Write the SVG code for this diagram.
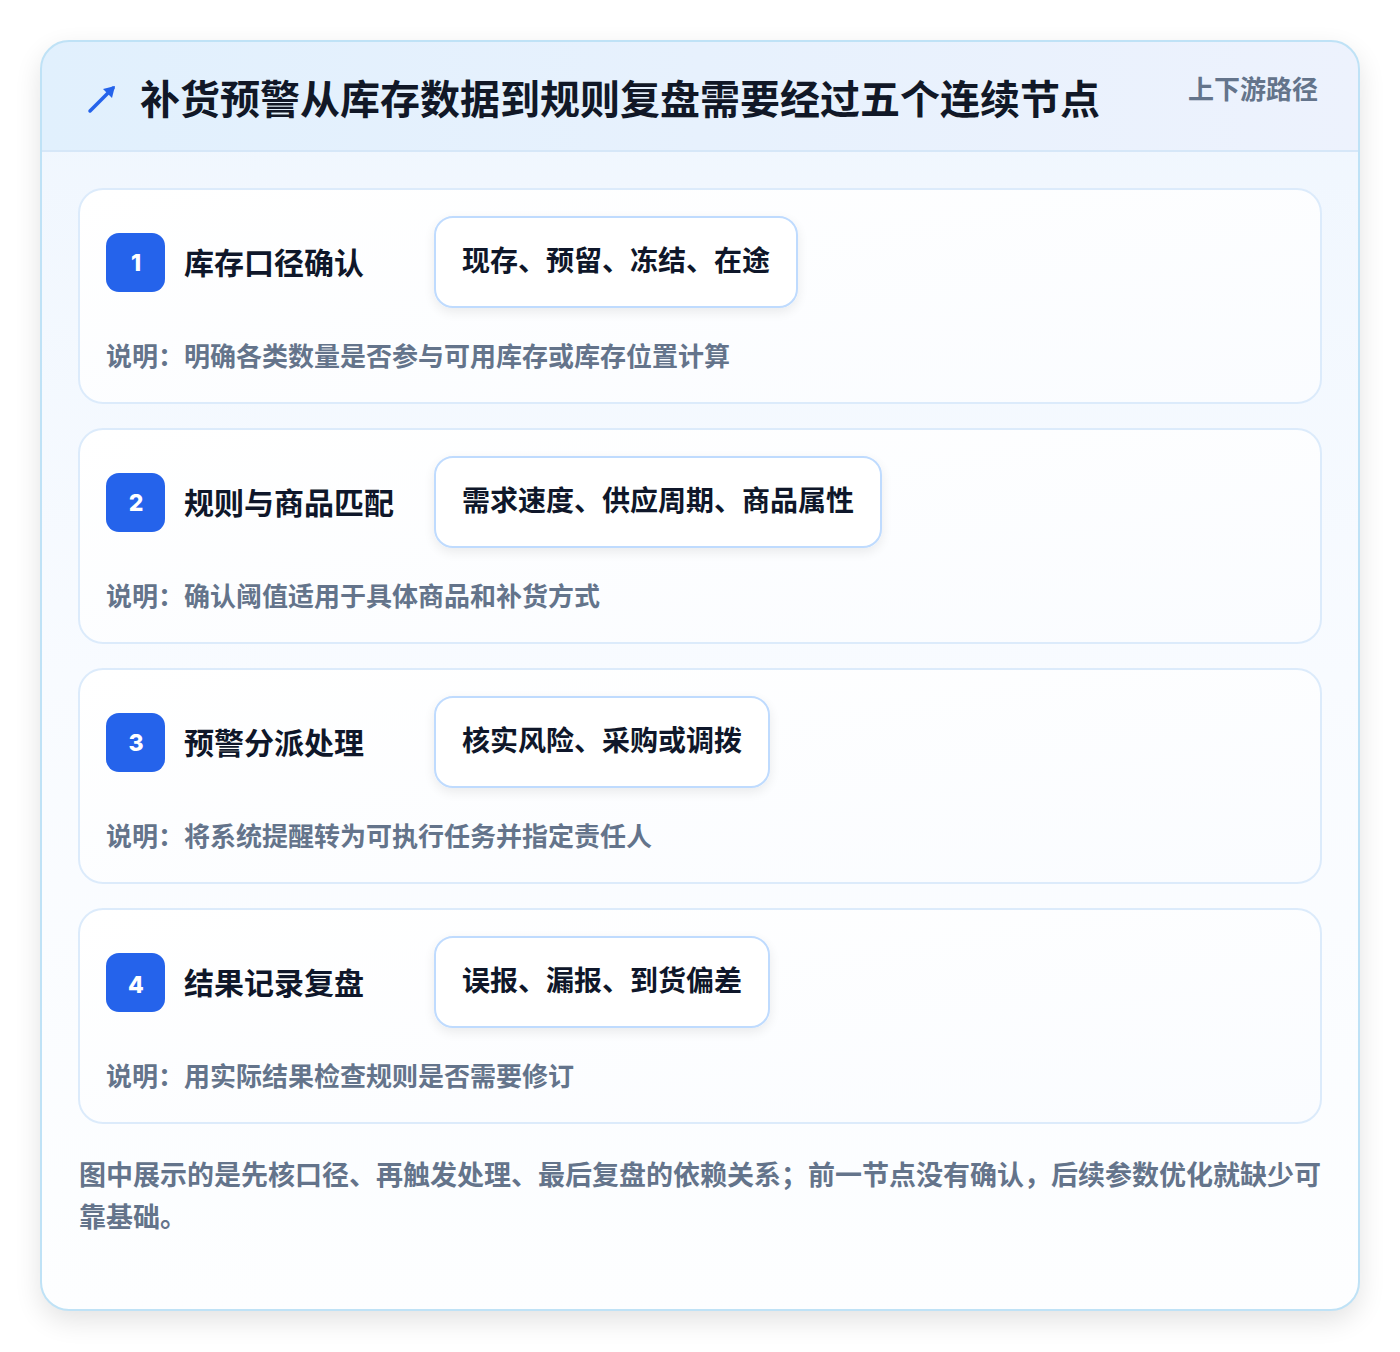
<svg xmlns="http://www.w3.org/2000/svg" width="1400" height="1352" viewBox="0 0 1400 1352">
<defs>
<linearGradient id="hdr" x1="0" y1="0" x2="1" y2="0"><stop offset="0" stop-color="#e1f0fd"/><stop offset="1" stop-color="#edf2fd"/></linearGradient>
<linearGradient id="body" x1="0" y1="0" x2="0" y2="1"><stop offset="0" stop-color="#eff6fe"/><stop offset="0.5" stop-color="#f8fbff"/><stop offset="1" stop-color="#fdfeff"/></linearGradient>
<linearGradient id="card" x1="0" y1="0" x2="1" y2="1"><stop offset="0" stop-color="#ffffff"/><stop offset="1" stop-color="#fafcff"/></linearGradient>
<filter id="sh" x="-10%" y="-10%" width="120%" height="120%"><feGaussianBlur in="SourceAlpha" stdDeviation="14"/><feOffset dy="10"/><feComponentTransfer><feFuncA type="linear" slope="0.12"/></feComponentTransfer><feMerge><feMergeNode/><feMergeNode in="SourceGraphic"/></feMerge></filter>
<filter id="tsh" x="-20%" y="-30%" width="140%" height="160%"><feGaussianBlur in="SourceAlpha" stdDeviation="6"/><feOffset dy="4"/><feComponentTransfer><feFuncA type="linear" slope="0.08"/></feComponentTransfer><feMerge><feMergeNode/><feMergeNode in="SourceGraphic"/></feMerge></filter>
<clipPath id="oc"><rect x="41" y="41" width="1318" height="1269" rx="28"/></clipPath>
</defs>
<style>
text{font-family:"Noto Sans CJK SC","Noto Sans",sans-serif;font-weight:700}
.card{fill:url(#card);stroke:#dcebfb;stroke-width:2}
.badge{fill:#2563eb}
.num{fill:#ffffff;font-size:23px;font-weight:800;text-anchor:middle;font-family:"Inter","Noto Sans",sans-serif}
.ttl{fill:#0f172a;font-size:30px}
.tag{fill:#ffffff;stroke:#bfdbfe;stroke-width:2}
.tagt{fill:#0f172a;font-size:28px}
.desc{fill:#64748b;font-size:26px}
</style>
<rect x="0" y="0" width="1400" height="1352" fill="#ffffff"/>
<g id="frame">
<rect x="41" y="41" width="1318" height="1269" rx="28" fill="url(#body)" filter="url(#sh)"/>
<g clip-path="url(#oc)">
<rect x="41" y="41" width="1318" height="110" fill="url(#hdr)"/>
<line x1="41" y1="151" x2="1359" y2="151" stroke="#d6e7f8" stroke-width="2"/>
</g>
<rect x="41" y="41" width="1318" height="1269" rx="28" fill="none" stroke="#bfe2f6" stroke-width="2"/>
</g>
<g id="header">
<g stroke="#2563eb" stroke-width="3.5" stroke-linecap="round" fill="none"><line x1="90" y1="111" x2="113" y2="88"/></g>
<polygon points="115,86 103,89 112,98" fill="#2563eb"/>
<text x="140" y="114" font-size="40" fill="#111827">补货预警从库存数据到规则复盘需要经过五个连续节点</text>
<text x="1318" y="99" font-size="26" fill="#64748b" text-anchor="end">上下游路径</text>
</g>
<g id="node1">
<rect class="card" x="79" y="189" width="1242" height="214" rx="24"/>
<rect class="badge" x="106" y="233" width="59" height="59" rx="13"/>
<text class="num" x="136" y="271">1</text>
<text class="ttl" x="184" y="274">库存口径确认</text>
<rect class="tag" x="435" y="217" width="362" height="90" rx="18" filter="url(#tsh)"/>
<text class="tagt" x="462" y="271">现存、预留、冻结、在途</text>
<text class="desc" x="106" y="366">说明：明确各类数量是否参与可用库存或库存位置计算</text>
</g>
<g id="node2">
<rect class="card" x="79" y="429" width="1242" height="214" rx="24"/>
<rect class="badge" x="106" y="473" width="59" height="59" rx="13"/>
<text class="num" x="136" y="511">2</text>
<text class="ttl" x="184" y="514">规则与商品匹配</text>
<rect class="tag" x="435" y="457" width="446" height="90" rx="18" filter="url(#tsh)"/>
<text class="tagt" x="462" y="511">需求速度、供应周期、商品属性</text>
<text class="desc" x="106" y="606">说明：确认阈值适用于具体商品和补货方式</text>
</g>
<g id="node3">
<rect class="card" x="79" y="669" width="1242" height="214" rx="24"/>
<rect class="badge" x="106" y="713" width="59" height="59" rx="13"/>
<text class="num" x="136" y="751">3</text>
<text class="ttl" x="184" y="754">预警分派处理</text>
<rect class="tag" x="435" y="697" width="334" height="90" rx="18" filter="url(#tsh)"/>
<text class="tagt" x="462" y="751">核实风险、采购或调拨</text>
<text class="desc" x="106" y="846">说明：将系统提醒转为可执行任务并指定责任人</text>
</g>
<g id="node4">
<rect class="card" x="79" y="909" width="1242" height="214" rx="24"/>
<rect class="badge" x="106" y="953" width="59" height="59" rx="13"/>
<text class="num" x="136" y="993">4</text>
<text class="ttl" x="184" y="994">结果记录复盘</text>
<rect class="tag" x="435" y="937" width="334" height="90" rx="18" filter="url(#tsh)"/>
<text class="tagt" x="462" y="991">误报、漏报、到货偏差</text>
<text class="desc" x="106" y="1086">说明：用实际结果检查规则是否需要修订</text>
</g>
<g id="connectors"></g>
<g id="footer">
<text x="79" y="1185" font-size="27" fill="#64748b">图中展示的是先核口径、再触发处理、最后复盘的依赖关系；前一节点没有确认，后续参数优化就缺少可</text>
<text x="79" y="1227" font-size="27" fill="#64748b">靠基础。</text>
</g>
</svg>
